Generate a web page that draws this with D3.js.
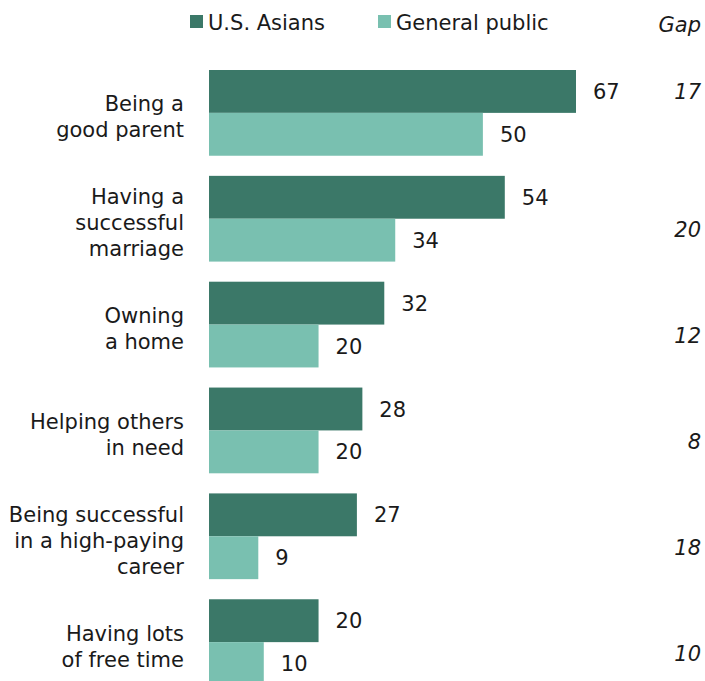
<!DOCTYPE html>
<html><head><meta charset="utf-8">
<script src="https://cdn.jsdelivr.net/npm/d3@7"></script>
<style>body{margin:0;background:#fff}svg{display:block}text{font-family:"DejaVu Sans",Verdana,sans-serif;fill:#1a1a1a}</style>
</head><body><div id="chart"></div>
<script>
const categories = [
  ["Being a","good parent"],
  ["Having a","successful","marriage"],
  ["Owning","a home"],
  ["Helping others","in need"],
  ["Being successful","in a high-paying","career"],
  ["Having lots","of free time"]
];
const asians = [67, 54, 32, 28, 27, 20];
const general = [50, 34, 20, 20, 9, 10];
const gaps = [17, 20, 12, 8, 18, 10];
const seriesNames = ["U.S. Asians", "General public"];
const colors = ["#3b7868", "#79c0b0"];

const W = 705, H = 681, FS = 21;
const svg = d3.select("#chart").append("svg").attr("width", W).attr("height", H);

const x = d3.scaleLinear().domain([0, 67]).range([209, 576]);
const y = d3.scaleBand().domain(d3.range(categories.length)).range([70, 685]).paddingInner(0.19).paddingOuter(0);
const sub = d3.scaleBand().domain([0, 1]).range([0, y.bandwidth()]);

const g = svg.append("g");
categories.forEach((c, i) => {
  const vals = [asians[i], general[i]];
  vals.forEach((v, s) => {
    g.append("rect").attr("x", x(0)).attr("y", y(i) + sub(s))
      .attr("width", x(v) - x(0)).attr("height", sub.bandwidth())
      .attr("fill", colors[s]);
    g.append("text").attr("x", x(v) + 17).attr("y", y(i) + sub(s) + sub.bandwidth() / 2)
      .attr("dy", "0.36em").attr("font-size", FS).text(v);
  });
  const mid = y(i) + y.bandwidth() / 2 + 4;
  const lh = 26;
  const t = g.append("text").attr("text-anchor", "end").attr("font-size", FS);
  c.forEach((line, k) => {
    t.append("tspan").attr("x", 184).attr("y", mid + (k - (c.length - 1) / 2) * lh).attr("dy", "0.36em").text(line);
  });
  const gy = i === 0 ? y(i) + sub(0) + sub.bandwidth() / 2 : y(i) + y.bandwidth() / 2 + 0.13 * y.bandwidth();
  g.append("text").attr("x", 701).attr("y", gy).attr("dy", "0.36em")
    .attr("text-anchor", "end").attr("font-style", "italic").attr("font-size", FS).text(gaps[i]);
});

svg.append("text").attr("x", 701).attr("y", 24).attr("dy", "0.36em")
  .attr("text-anchor", "end").attr("font-style", "italic").attr("font-size", FS).text("Gap");

const legX = [190, 378];
seriesNames.forEach((n, s) => {
  svg.append("rect").attr("x", legX[s]).attr("y", 15).attr("width", 13).attr("height", 13).attr("fill", colors[s]);
  svg.append("text").attr("x", legX[s] + 18).attr("y", 22).attr("dy", "0.36em").attr("font-size", FS).text(n);
});
</script></body></html>
